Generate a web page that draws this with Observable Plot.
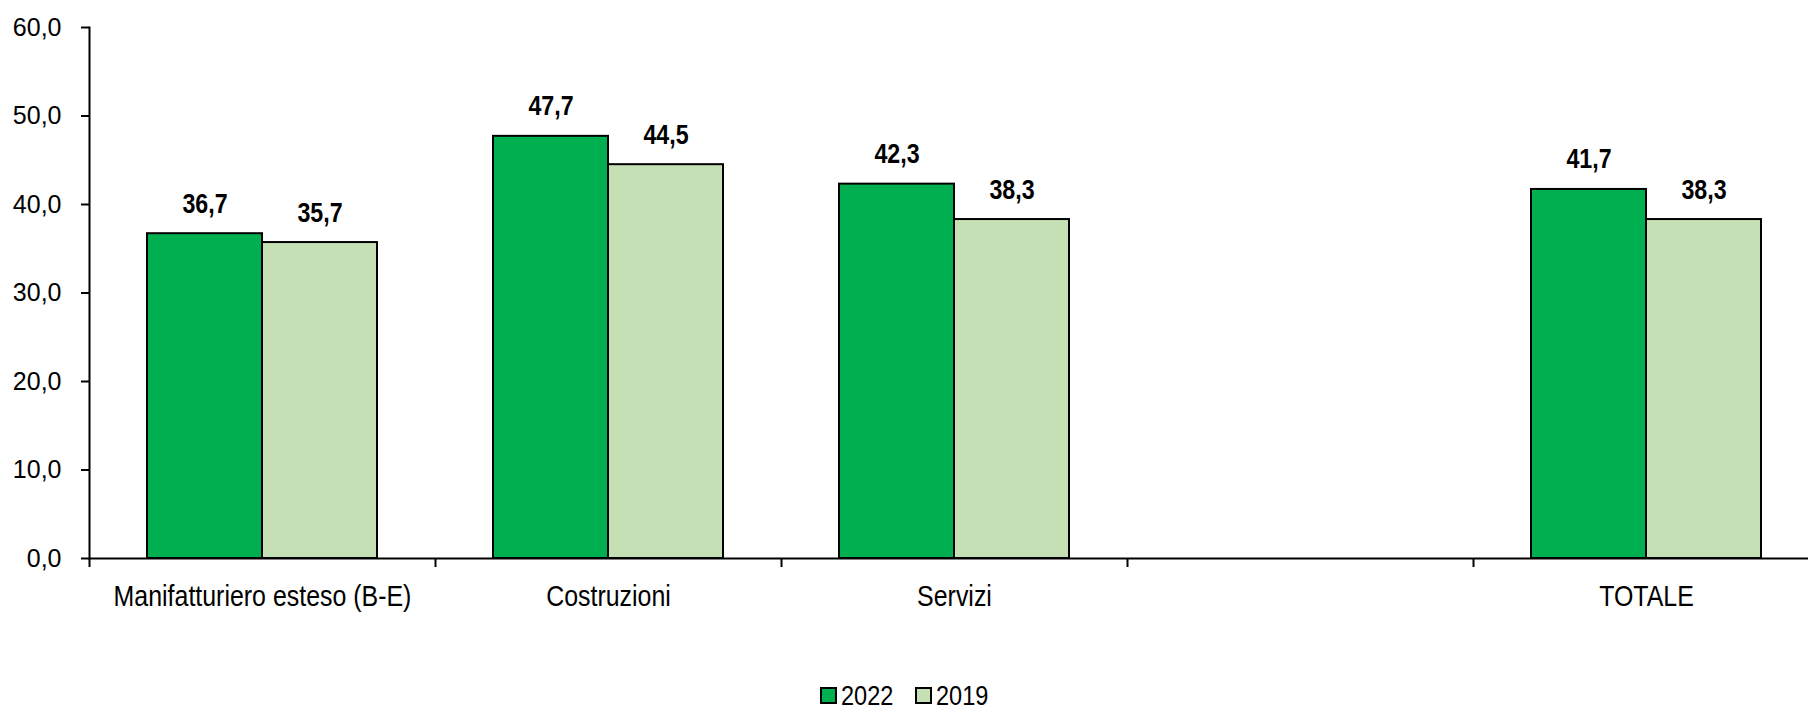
<!DOCTYPE html>
<html>
<head>
<meta charset="utf-8">
<script src="https://cdn.jsdelivr.net/npm/d3@7"></script>
<script src="https://cdn.jsdelivr.net/npm/@observablehq/plot@0.6"></script>
<style>
  html, body { margin: 0; padding: 0; background: #fff; overflow: hidden; }
  #legend { height: 59px; box-sizing: border-box; padding-top: 32px; display: flex; justify-content: center; align-items: center; font-family: "Liberation Sans", Arial, sans-serif; font-size: 28px; line-height: 28px; color: #000; }
  .item { display: flex; align-items: center; margin: 0 11px; }
  .sw { width: 13px; height: 13px; border: 2px solid #000; margin-right: 4px; }
  .lt { display: inline-block; transform: scaleX(0.84); transform-origin: left center; margin-right: -10px; }
</style>
</head>
<body>
<div id="chart"></div>
<div id="legend"></div>
<script>
const categories = ["Manifatturiero esteso (B-E)", "Costruzioni", "Servizi", " ", "TOTALE"];
const years = ["2022", "2019"];
const values2022 = [36.7, 47.7, 42.3, null, 41.7];
const values2019 = [35.7, 44.5, 38.3, null, 38.3];
const colors = ["#00b050", "#c5e0b4"];
const yTicks = [0, 10, 20, 30, 40, 50, 60];

const rows = [];
categories.forEach((c, i) => {
  if (values2022[i] != null) rows.push({category: c, year: "2022", value: values2022[i]});
  if (values2019[i] != null) rows.push({category: c, year: "2019", value: values2019[i]});
});

const fmt = d => d.toFixed(1).replace(".", ",");
const font = '"Liberation Sans", Arial, sans-serif';
const left = 89, right = 1819;
const step = (right - left) / categories.length;

const chart = Plot.plot({
  width: 1808,
  height: 650,
  marginTop: 27,
  marginBottom: 92,
  marginLeft: left,
  marginRight: 0,
  style: {fontFamily: font, fontSize: "25px", color: "#000", background: "#fff", overflow: "visible"},
  fx: {domain: categories, range: [left, right], padding: 0, label: null, axis: null},
  x: {domain: years, paddingInner: 0, paddingOuter: 0.5, axis: null},
  y: {domain: [0, 60], label: null, axis: null},
  color: {domain: years, range: colors},
  marks: [
    Plot.barY(rows, {fx: "category", x: "year", y: "value", fill: "year", stroke: "#000", strokeWidth: 2}),
    Plot.text(rows, {fx: "category", x: "year", y: "value", text: d => fmt(d.value), lineAnchor: "bottom", dy: -21, fontWeight: "bold", fontSize: 28, fill: "#000"}),
    Plot.ruleY(categories, {fx: d => d, y: 0, stroke: "#000", strokeWidth: 2}),
    Plot.frame({anchor: "left", facetAnchor: "left", stroke: "#000", strokeWidth: 2}),
    Plot.axisY({ticks: yTicks, tickFormat: fmt, tickSize: 8, tickPadding: 20, strokeWidth: 2, fontSize: 25, label: null, facetAnchor: "left"}),
    Plot.axisFx({anchor: "bottom", tickSize: 0, tickPadding: 27, fontSize: 29, label: null}),
    Plot.axisFx({anchor: "bottom", text: null, tickSize: 9, dx: -step / 2, strokeWidth: 2, label: null})
  ]
});
document.getElementById("chart").appendChild(chart);

// condense the category and value labels horizontally, like the original narrow font
d3.select(chart).selectAll('g[aria-label="text"] text').each(function () {
  const t = this.getAttribute("transform");
  if (t) this.setAttribute("transform", t + " scale(0.83,1)");
});
d3.select(chart).selectAll('g[aria-label="fx-axis tick label"] text').each(function () {
  const t = this.getAttribute("transform");
  if (t) this.setAttribute("transform", t + " scale(0.86,1)");
});

const legend = document.getElementById("legend");
years.forEach((y, i) => {
  const item = document.createElement("div");
  item.className = "item";
  const sw = document.createElement("div");
  sw.className = "sw";
  sw.style.background = colors[i];
  const t = document.createElement("span");
  t.className = "lt";
  t.textContent = y;
  item.appendChild(sw);
  item.appendChild(t);
  legend.appendChild(item);
});
</script>
</body>
</html>
